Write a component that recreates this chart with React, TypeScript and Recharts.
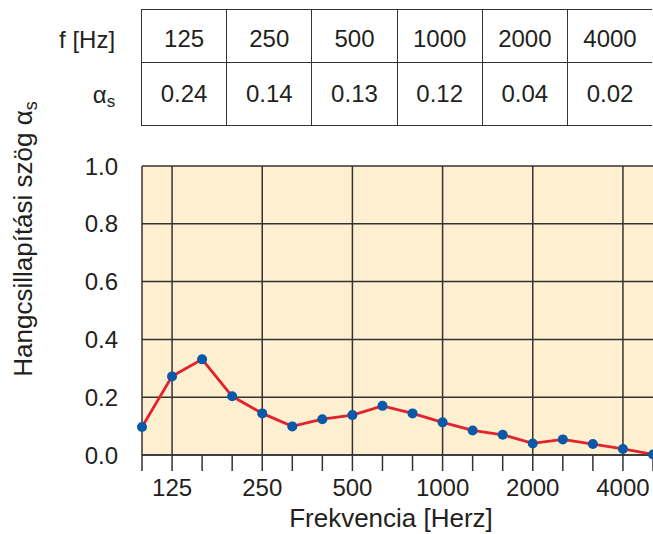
import { LineChart, Line, XAxis, YAxis, CartesianGrid, ReferenceLine } from "recharts";

const FREQUENCIES = ["100", "125", "160", "200", "250", "315", "400", "500", "630", "800", "1000", "1250", "1600", "2000", "2500", "3150", "4000", "5000"];
const ABSORPTION = [0.097, 0.272, 0.331, 0.203, 0.144, 0.099, 0.124, 0.138, 0.17, 0.144, 0.113, 0.085, 0.07, 0.04, 0.054, 0.038, 0.021, 0.002];
const OCTAVE_BANDS = ["125", "250", "500", "1000", "2000", "4000"];
const OCTAVE_ALPHA = ["0.24", "0.14", "0.13", "0.12", "0.04", "0.02"];
const Y_TICKS = [0, 0.2, 0.4, 0.6, 0.8, 1.0];

const INK = "#231f20";
const GRID = "#333333";
const FONT = "'Liberation Sans', Arial, Helvetica, sans-serif";

const data = FREQUENCIES.map((f, i) => ({ f, alpha: ABSORPTION[i] }));

function FreqTick({ x, y, payload }: any) {
  if (!OCTAVE_BANDS.includes(String(payload.value))) return <g />;
  return (
    <text x={x} y={y} dy="0.71em" textAnchor="middle" fontSize={24} fill={INK} fontFamily={FONT}>
      {payload.value}
    </text>
  );
}

function YTitle() {
  return (
    <text x={32} y={239} transform="rotate(-90 32 239)" textAnchor="middle" fontSize={26} fill={INK} fontFamily={FONT}>
      Hangcsillapítási szög α
      <tspan fontSize={18} dy={5}>s</tspan>
    </text>
  );
}

function XTitle() {
  return (
    <text x={391} y={527} textAnchor="middle" fontSize={26} fill={INK} fontFamily={FONT}>
      Frekvencia [Herz]
    </text>
  );
}

function BandTable() {
  const cell = (h: number, top: boolean) => ({
    width: 85.2,
    height: h,
    boxSizing: "border-box" as const,
    borderLeft: `1.5px solid ${GRID}`,
    borderTop: top ? `1.5px solid ${GRID}` : "none",
    borderBottom: `1.5px solid ${GRID}`,
    display: "flex",
    alignItems: "center",
    justifyContent: "center",
    paddingTop: top ? 5 : 0,
    fontSize: 24,
    color: INK,
  });
  return (
    <div style={{ position: "absolute", left: 141, top: 9, fontFamily: FONT }}>
      <div style={{ display: "flex" }}>
        {OCTAVE_BANDS.map((b) => (
          <div key={b} style={cell(54, true)}>{b}</div>
        ))}
      </div>
      <div style={{ display: "flex" }}>
        {OCTAVE_ALPHA.map((a, i) => (
          <div key={i} style={cell(63, false)}>{a}</div>
        ))}
      </div>
      <div style={{ position: "absolute", right: 537, top: 17, fontSize: 24, color: INK, whiteSpace: "nowrap" }}>f [Hz]</div>
      <div style={{ position: "absolute", right: 537, top: 72, fontSize: 24, color: INK, whiteSpace: "nowrap" }}>
        α<sub style={{ fontSize: 17, verticalAlign: "-4px" }}>s</sub>
      </div>
    </div>
  );
}

export default function App() {
  return (
    <div style={{ position: "absolute", left: 0, top: 0, width: 653, height: 534, overflow: "hidden", background: "#fff" }}>
      <BandTable />
      <LineChart width={653} height={534} data={data} margin={{ top: 166, right: 0, bottom: 0, left: 0 }}>
        <CartesianGrid vertical={false} fill="#fdefd0" stroke={GRID} strokeWidth={1.5} />
        {OCTAVE_BANDS.map((b) => (
          <ReferenceLine key={b} x={b} stroke={GRID} strokeWidth={1.5} />
        ))}
        <XAxis
          dataKey="f"
          type="category"
          scale="point"
          padding={{ left: 0, right: 0 }}
          interval={0}
          height={79}
          tickSize={16}
          tickMargin={8}
          tick={<FreqTick />}
          tickLine={{ stroke: GRID, strokeWidth: 1.5 }}
          axisLine={{ stroke: GRID, strokeWidth: 1.5 }}
          label={<XTitle />}
        />
        <YAxis
          width={142}
          domain={[0, 1]}
          ticks={Y_TICKS}
          tickFormatter={(v: number) => v.toFixed(1)}
          tickLine={false}
          tickSize={0}
          tickMargin={24}
          tick={{ fontSize: 24, fill: INK, fontFamily: FONT }}
          axisLine={{ stroke: GRID, strokeWidth: 1.5 }}
          label={<YTitle />}
        />
        <Line
          type="linear"
          dataKey="alpha"
          stroke="#e3232b"
          strokeWidth={2.8}
          dot={{ r: 5, fill: "#0a58a8", stroke: "none" }}
          isAnimationActive={false}
        />
      </LineChart>
    </div>
  );
}
